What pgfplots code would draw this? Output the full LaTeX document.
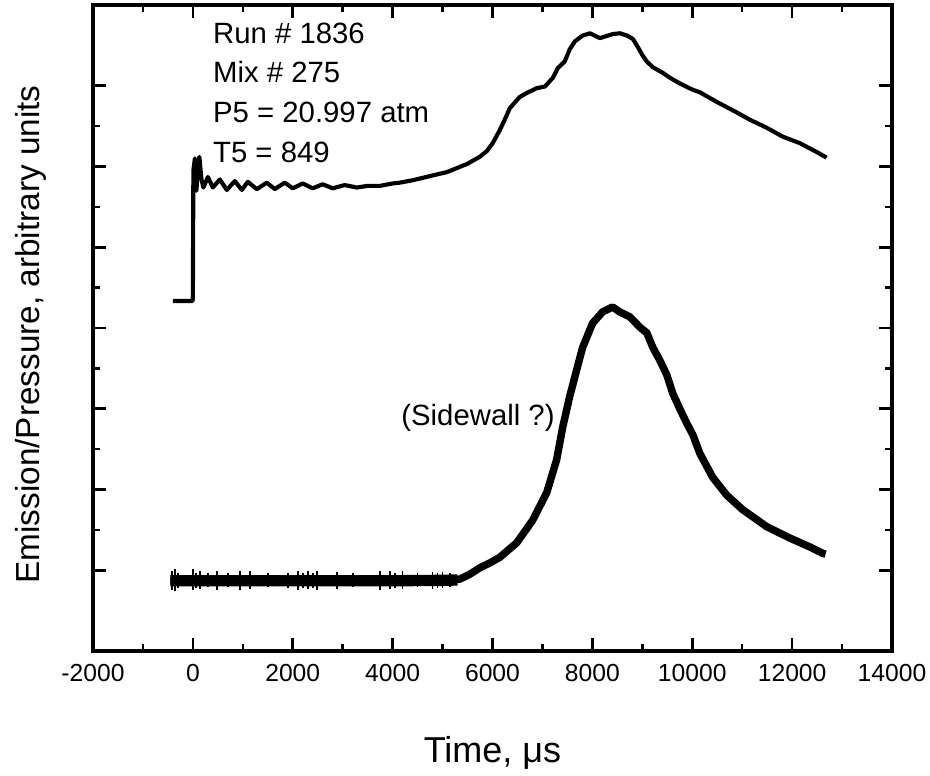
\documentclass[border=0pt]{standalone}
\usepackage{fontspec}
\setmainfont{Liberation Sans}
\usepackage{pgfplots}
\pgfplotsset{compat=1.18}
\begin{document}
\begin{tikzpicture}
\begin{axis}[name=ax, scale only axis, width=599.25pt, height=484.5pt,
  xmin=-2000, xmax=14000, ymin=0, ymax=8,
  xtick={-2000,0,2000,4000,6000,8000,10000,12000,14000},
  xticklabels={-2000,0,2000,4000,6000,8000,10000,12000,14000},
  minor x tick num=1,
  ytick={1,2,3,4,5,6,7}, yticklabels={}, minor y tick num=1,
  tick align=inside, tick pos=both,
  major tick length=10pt, minor tick length=5pt,
  tick style={black, line width=1.9pt},
  axis line style={line width=2.3pt},
  ticklabel style={font=\fontsize{18.5}{22}\selectfont},
  xticklabel style={yshift=-6.5pt},
  scaled x ticks=false,
  unbounded coords=jump,
  xlabel={Time, μs}, ylabel={Emission/Pressure, arbitrary units},
  xlabel style={at={(axis description cs:0.5,-0.132)}, anchor=north, inner sep=0pt, font=\fontsize{27}{32}\selectfont},
  ylabel style={at={(axis description cs:-0.0576,0.49)}, anchor=south, inner sep=0pt, font=\fontsize{25}{30}\selectfont},
]
% pressure trace
\addplot[black, line width=3.1pt, line join=round] coordinates {
(-400,4.334) (-5,4.334) (0,4.40) (10,5.95) (40,6.10) (70,5.70) (100,5.95) (130,6.12)
(170,5.85) (210,5.74) (300,5.87) (400,5.74) (540,5.84) (680,5.71) (840,5.82) (980,5.71)
(1100,5.81) (1280,5.72) (1480,5.80) (1640,5.72) (1840,5.80) (2000,5.73) (2200,5.79)
(2400,5.73) (2600,5.78) (2800,5.73) (3040,5.77) (3280,5.74) (3500,5.76) (3745,5.76)
(4000,5.79) (4145,5.80) (4405,5.83) (4805,5.89) (5085,5.93) (5485,6.03) (5745,6.12)
(5885,6.19) (6005,6.29) (6145,6.45) (6245,6.58) (6345,6.72) (6485,6.82) (6545,6.86)
(6685,6.91) (6885,6.97) (7050,6.99) (7210,7.10) (7310,7.22) (7445,7.30) (7545,7.45)
(7650,7.55) (7800,7.62) (7950,7.65) (8150,7.59) (8410,7.64) (8550,7.65) (8700,7.62)
(8810,7.58) (8910,7.48) (9010,7.37) (9090,7.30) (9210,7.23) (9410,7.16) (9550,7.10)
(9690,7.05) (9810,7.01) (10010,6.95) (10150,6.92) (10490,6.80) (10890,6.67)
(11150,6.58) (11490,6.48) (11810,6.37) (12150,6.29) (12490,6.18) (12690,6.11)
};
% emission trace: flat (noisy) band
\addplot[black, line width=8.5pt] coordinates {
(-450,0.87) (1000,0.87) (2000,0.87) (3000,0.87) (4000,0.87) (5000,0.875) (5300,0.88)
};
% emission trace
\addplot[black, line width=5.6pt, line join=round] coordinates {
(-450,0.87) (1000,0.87) (2000,0.87) (3000,0.87) (4000,0.87) (5000,0.875) (5345,0.89)
(5545,0.95) (5745,1.03) (5945,1.09) (6145,1.16) (6485,1.34)
(6805,1.62) (7085,1.96) (7285,2.37) (7405,2.77) (7545,3.15) (7685,3.48) (7805,3.76)
(8005,4.06) (8205,4.20) (8405,4.26) (8545,4.20) (8745,4.14) (8810,4.10) (8950,4.01)
(9090,3.94) (9210,3.76) (9350,3.60) (9490,3.42) (9610,3.19) (9750,3.00) (9890,2.82)
(10010,2.68) (10150,2.45) (10410,2.15) (10690,1.93) (11010,1.75) (11490,1.54)
(11950,1.40) (12350,1.29) (12610,1.21) (12670,1.20)
};
% emission noise spikes
\addplot[black, line width=1.3pt] coordinates {
(-420,0.76) (-420,0.99) (-420,nan) (-360,0.74) (-360,1.01) (-360,nan)
(-300,0.78) (-300,0.97) (-300,nan) (0,0.76) (0,1.02) (0,nan)
(60,0.78) (60,0.97) (60,nan) (140,0.77) (140,0.99) (140,nan)
(300,0.79) (300,0.96) (300,nan) (480,0.76) (480,0.99) (480,nan)
(700,0.79) (700,0.96) (700,nan) (940,0.76) (940,0.99) (940,nan)
(1140,0.77) (1140,0.99) (1140,nan) (1500,0.79) (1500,0.96) (1500,nan)
(1900,0.78) (1900,0.97) (1900,nan) (2100,0.76) (2100,0.99) (2100,nan)
(2200,0.78) (2200,0.97) (2200,nan) (2300,0.77) (2300,0.99) (2300,nan)
(2400,0.78) (2400,0.97) (2400,nan) (2480,0.76) (2480,0.99) (2480,nan)
(2880,0.77) (2880,0.98) (2880,nan) (3200,0.79) (3200,0.96) (3200,nan)
(3745,0.76) (3745,0.99) (3745,nan) (3950,0.77) (3950,0.99) (3950,nan)
(4050,0.78) (4050,0.97) (4050,nan) (4200,0.77) (4200,0.99) (4200,nan)
(4500,0.79) (4500,0.96) (4500,nan) (4800,0.77) (4800,0.98) (4800,nan)
(4900,0.78) (4900,0.97) (4900,nan) (5000,0.78) (5000,0.98) (5000,nan)
(5150,0.79) (5150,0.97)
};
\node[anchor=west, inner sep=0pt, font=\fontsize{22}{26}\selectfont] at (axis cs:400,7.653) {Run \# 1836};
\node[anchor=west, inner sep=0pt, font=\fontsize{22}{26}\selectfont] at (axis cs:400,7.164) {Mix \# 275};
\node[anchor=west, inner sep=0pt, font=\fontsize{22}{26}\selectfont] at (axis cs:400,6.675) {P5 = 20.997 atm};
\node[anchor=west, inner sep=0pt, font=\fontsize{22}{26}\selectfont] at (axis cs:400,6.18) {T5 = 849};
\node[anchor=east, inner sep=0pt, font=\fontsize{22}{26}\selectfont] at (axis cs:7249,2.885) {(Sidewall ?)};
\end{axis}
\pgfresetboundingbox
\path[use as bounding box] ([xshift=-69.75pt,yshift=-93pt]ax.south west) rectangle ([xshift=28.5pt,yshift=3.75pt]ax.north east);
\end{tikzpicture}
\end{document}
